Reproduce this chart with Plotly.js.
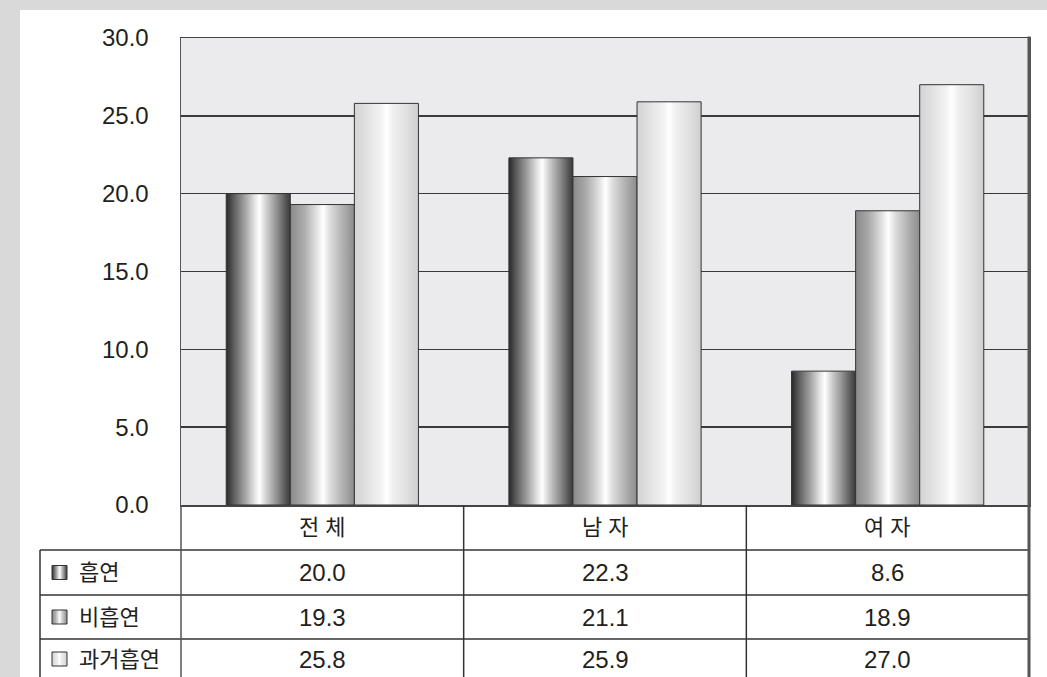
<!DOCTYPE html>
<html>
<head>
<meta charset="utf-8">
<script src="https://cdn.plot.ly/plotly-3.0.1.min.js"></script>
<style>
  html, body { margin: 0; padding: 0; background: #d9d9d9; width: 1047px; height: 677px; overflow: hidden; }
  #chart { position: absolute; left: 20px; top: 10px; width: 1027px; height: 667px; background: #fff; }
</style>
</head>
<body>
<div id="chart"></div>
<script>
// ---- data ----
const categories = ['전 체', '남 자', '여 자'];
const seriesNames = ['흡연', '비흡연', '과거흡연'];
const smoking = [20.0, 22.3, 8.6];
const nonSmoking = [19.3, 21.1, 18.9];
const formerSmoking = [25.8, 25.9, 27.0];
const yTicks = [0, 5, 10, 15, 20, 25, 30];

const seriesValues = [smoking, nonSmoking, formerSmoking];

// ---- geometry helpers (absolute page px -> paper coords) ----
const W = 1027, H = 667, OX = 20, OY = 10;
const L = 161, R = 18, T = 28, B = 172;
const plotW = W - L - R, plotH = H - T - B;
const px = ax => (ax - OX - L) / plotW;
const py = ay => (H - B - (ay - OY)) / plotH;

const FONT = '"Liberation Sans", "Noto Sans CJK KR", sans-serif';
const TXT = '#231f20';
const LINE = '#333333';
const numFont = { family: FONT, size: 24, color: TXT };
const korFont = { family: FONT, size: 22, color: TXT };

const traces = seriesValues.map((vals, i) => ({
  type: 'bar',
  name: seriesNames[i],
  x: categories,
  y: vals,
  marker: { color: ['#666', '#aaa', '#e6e6e6'][i], line: { color: '#333', width: 1 } },
  hoverinfo: 'skip'
}));

const shapes = [];
// horizontal table lines
[550, 595, 639].forEach(y => shapes.push({
  type: 'line', xref: 'paper', yref: 'paper',
  x0: px(40), x1: px(1029), y0: py(y), y1: py(y),
  line: { color: LINE, width: 1.5 }
}));
// left border of row-label column
shapes.push({ type: 'line', xref: 'paper', yref: 'paper', x0: px(40), x1: px(40), y0: py(550), y1: py(700), line: { color: LINE, width: 1.5 } });
// category column separators (including plot left edge)
for (let k = 0; k < categories.length; k++) {
  const xp = k / categories.length;
  shapes.push({ type: 'line', xref: 'paper', yref: 'paper', x0: xp, x1: xp, y0: 0, y1: py(700), line: { color: k === 0 ? '#555' : LINE, width: 1.5 } });
}
// right thick border
shapes.push({ type: 'line', xref: 'paper', yref: 'paper', x0: 1, x1: 1, y0: 1.003, y1: py(700), line: { color: '#555', width: 3 } });
const legendShapeStart = shapes.length;
// legend squares
const rowCenters = [572.5, 617, 659];
rowCenters.forEach((yc, i) => shapes.push({
  type: 'rect', xref: 'paper', yref: 'paper',
  x0: px(52), x1: px(67), y0: py(yc - 7), y1: py(yc + 7),
  fillcolor: ['#666', '#aaa', '#e6e6e6'][i], line: { color: '#333', width: 1 }
}));

const annotations = [];
categories.forEach((c, j) => {
  annotations.push({ xref: 'x', yref: 'paper', x: c, y: py(527.5), text: c, showarrow: false,
    font: korFont, xanchor: 'center', yanchor: 'middle' });
});
seriesValues.forEach((vals, i) => {
  annotations.push({ xref: 'paper', yref: 'paper', x: px(77), y: py(rowCenters[i]), text: seriesNames[i], showarrow: false,
    font: korFont, xanchor: 'left', yanchor: 'middle' });
  vals.forEach((v, j) => {
    annotations.push({ xref: 'x', yref: 'paper', x: categories[j], y: py(rowCenters[i]), text: v.toFixed(1), showarrow: false,
      font: numFont, xanchor: 'center', yanchor: 'middle' });
  });
});

const layout = {
  width: W, height: H,
  margin: { l: L, r: R, t: T, b: B, pad: 0 },
  paper_bgcolor: '#ffffff',
  plot_bgcolor: '#ebebed',
  showlegend: false,
  barmode: 'group',
  bargap: 0.32,
  bargroupgap: 0,
  font: { family: FONT, color: TXT },
  xaxis: {
    type: 'category',
    showticklabels: false,
    ticks: '',
    showgrid: false,
    showline: true, linecolor: '#444', linewidth: 1.5, mirror: true,
    fixedrange: true
  },
  yaxis: {
    range: [0, 30],
    tickvals: yTicks,
    tickformat: '.1f',
    ticks: 'outside', ticklen: 26, tickcolor: 'rgba(0,0,0,0)',
    tickfont: numFont,
    showgrid: true, gridcolor: '#3a3a3a', gridwidth: 1.5,
    zeroline: false,
    showline: true, linecolor: '#555', linewidth: 1.5, mirror: true,
    fixedrange: true
  },
  shapes: shapes,
  annotations: annotations
};

const gradients = [
  [[0, '#2a2a2a'], [0.12, '#5e5e5e'], [0.3, '#a6a6a6'], [0.45, '#e6e6e6'], [0.52, '#ffffff'], [0.62, '#d2d2d2'], [0.8, '#8c8c8c'], [0.93, '#555555'], [1, '#3a3a3a']],
  [[0, '#8a8a8a'], [0.2, '#a9a9a9'], [0.4, '#dedede'], [0.51, '#ffffff'], [0.62, '#dcdcdc'], [0.82, '#b0b0b0'], [1, '#8c8c8c']],
  [[0, '#d3d3d5'], [0.2, '#e2e2e3'], [0.4, '#f1f1f1'], [0.5, '#ffffff'], [0.6, '#f0f0f0'], [0.82, '#e0e0e1'], [1, '#cfcfd0']]
];

Plotly.newPlot('chart', traces, layout, { staticPlot: true, displayModeBar: false }).then(gd => {
  const svg = gd.querySelector('svg.main-svg');
  const NS = 'http://www.w3.org/2000/svg';
  let defs = svg.querySelector('defs');
  if (!defs) { defs = document.createElementNS(NS, 'defs'); svg.insertBefore(defs, svg.firstChild); }
  gradients.forEach((stops, i) => {
    const g = document.createElementNS(NS, 'linearGradient');
    g.setAttribute('id', 'barGrad' + i);
    g.setAttribute('x1', '0'); g.setAttribute('x2', '1'); g.setAttribute('y1', '0'); g.setAttribute('y2', '0');
    stops.forEach(([o, c]) => {
      const s = document.createElementNS(NS, 'stop');
      s.setAttribute('offset', o); s.setAttribute('stop-color', c);
      g.appendChild(s);
    });
    defs.appendChild(g);
  });
  const barTraces = gd.querySelectorAll('.barlayer .trace');
  barTraces.forEach((tr, i) => {
    tr.querySelectorAll('path').forEach(p => { p.style.fill = 'url(#barGrad' + i + ')'; });
  });
  gd.querySelectorAll('.shapelayer path').forEach(p => {
    const idx = +p.getAttribute('data-index');
    if (idx >= legendShapeStart && idx < legendShapeStart + 3) {
      p.style.fill = 'url(#barGrad' + (idx - legendShapeStart) + ')';
    }
  });
});
</script>
</body>
</html>
